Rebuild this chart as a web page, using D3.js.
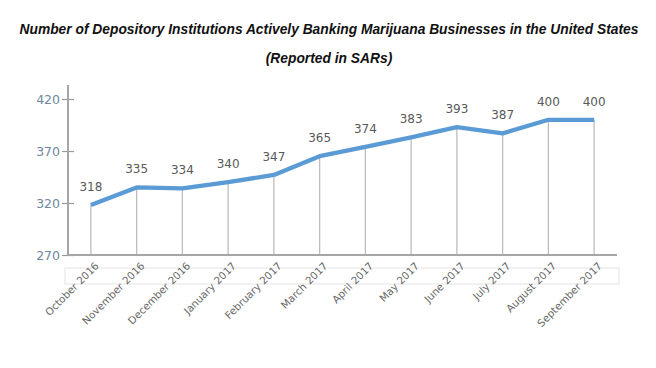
<!DOCTYPE html>
<html>
<head>
<meta charset="utf-8">
<script src="https://cdn.jsdelivr.net/npm/d3@7"></script>
<style>
  body { margin: 0; background: #fff; }
  svg { display: block; }
</style>
</head>
<body>
<div id="mainChart"></div>
<script>
// Chart data
const months = ["October 2016", "November 2016", "December 2016", "January 2017", "February 2017",
   "March 2017", "April 2017", "May 2017", "June 2017", "July 2017", "August 2017", "September 2017"]
const institutions = [318, 335, 334, 340, 347, 365, 374, 383, 393, 387, 400, 400]
const yTicks = [270, 320, 370, 420]
const titleLines = ["Number of Depository Institutions Actively Banking Marijuana Businesses in the United States",
   "(Reported in SARs)"]

const W = 656, H = 368
const margin = { top: 85, right: 39, bottom: 113, left: 68 }
const width = W - margin.left - margin.right
const height = H - margin.top - margin.bottom

const svg = d3.select("#mainChart").append("svg")
   .attr("width", W)
   .attr("height", H)

// Titles
svg.selectAll("text.title").data(titleLines)
   .join("text")
   .attr("class", "title")
   .attr("x", W / 2 + 1)
   .attr("y", (d, i) => 34 + i * 29)
   .attr("text-anchor", "middle")
   .style("font-family", "'Liberation Sans', Arial, sans-serif")
   .style("font-weight", "bold")
   .style("font-style", "italic")
   .style("font-size", "13.8px")
   .style("fill", "#111")
   .text(d => d)

const g = svg.append("g")
   .attr("transform", "translate(" + margin.left + "," + margin.top + ")")

// Scales
let x = d3.scaleBand()
   .domain(months)
   .range([0, width])

let y = d3.scaleLinear()
   .domain([270, 420])
   .range([height, 14])

// Box under the axis
g.append("rect")
   .attr("x", -3)
   .attr("y", height + 13)
   .attr("width", width + 5)
   .attr("height", 16)
   .attr("fill", "none")
   .attr("stroke", "#e3e3e3")
   .attr("stroke-width", 1)

// Drop lines from each point to the axis
g.selectAll("line.drop").data(institutions)
   .join("line")
   .attr("class", "drop")
   .attr("x1", (d, i) => x(months[i]) + x.bandwidth() / 2)
   .attr("x2", (d, i) => x(months[i]) + x.bandwidth() / 2)
   .attr("y1", d => y(d))
   .attr("y2", height)
   .attr("stroke", "#bdbdbd")
   .attr("stroke-width", 1.3)

// Y axis
let yAxis = d3.axisLeft(y)
   .tickValues(yTicks)
   .tickSize(6)
   .tickPadding(2)

let verticalAxis = g.append("g").call(yAxis)
verticalAxis.select(".domain").remove()
verticalAxis.selectAll("g.tick line")
   .attr("x1", -6)
   .attr("x2", 6)
   .attr("stroke", "#9a9a9a")
   .attr("stroke-width", 1.2)
verticalAxis.selectAll("g.tick text")
   .style("font-family", "'DejaVu Sans', sans-serif")
   .style("font-size", "12.5px")
   .style("fill", "#6f86a0")
   .attr("dy", "0.35em")

g.append("line")
   .attr("x1", 0).attr("x2", 0)
   .attr("y1", 0).attr("y2", height)
   .attr("stroke", "#a6a6a6")
   .attr("stroke-width", 2)

// X axis
let xAxis = d3.axisBottom(x).tickSize(0).tickPadding(0)
let horizontalAxis = g.append("g")
   .attr("transform", "translate(0," + height + ")")
   .call(xAxis)
horizontalAxis.select(".domain").remove()
horizontalAxis.selectAll("g.tick text")
   .attr("text-anchor", "end")
   .attr("transform", "translate(6,9) rotate(-45)")
   .attr("y", 0)
   .attr("dy", "0.35em")
   .style("font-family", "'DejaVu Sans', sans-serif")
   .style("font-size", "10.3px")
   .style("fill", "#666")

g.append("line")
   .attr("x1", 0).attr("x2", width)
   .attr("y1", height).attr("y2", height)
   .attr("stroke", "#a6a6a6")
   .attr("stroke-width", 2)

// Data line
let line = d3.line()
   .x((d, i) => x(months[i]) + x.bandwidth() / 2)
   .y(d => y(d))

g.append("path")
   .datum(institutions)
   .attr("d", line)
   .attr("fill", "none")
   .attr("stroke", "#5b9bd5")
   .attr("stroke-width", 4.3)
   .attr("stroke-linejoin", "round")

// Value labels
g.selectAll("text.value").data(institutions)
   .join("text")
   .attr("class", "value")
   .attr("x", (d, i) => x(months[i]) + x.bandwidth() / 2)
   .attr("y", d => y(d) - 14)
   .attr("text-anchor", "middle")
   .style("font-family", "'DejaVu Sans', sans-serif")
   .style("font-size", "12px")
   .style("fill", "#595959")
   .text(d => d)
</script>
</body>
</html>
